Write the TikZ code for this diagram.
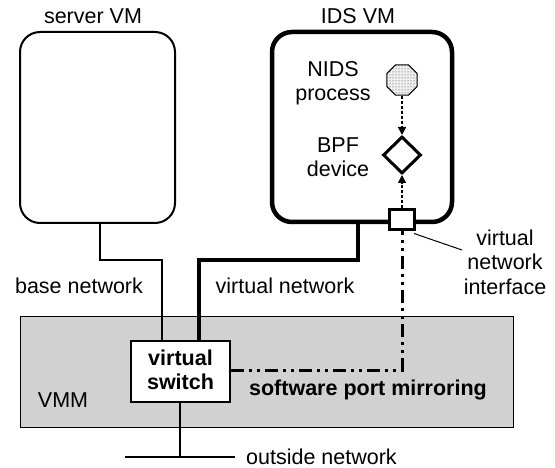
\documentclass[tikz,border=0pt]{standalone}
\usepackage{fontspec}
\setmainfont{Liberation Sans}
\usetikzlibrary{shapes.geometric,patterns,arrows.meta,calc}
\begin{document}
\begin{tikzpicture}[x=1pt,y=-1pt,
  lbl/.style={font=\fontsize{21.5}{24.5}\selectfont, align=center, inner sep=0pt},
  blbl/.style={lbl, font=\fontsize{21.5}{24.5}\selectfont\bfseries},
  vmbox/.style={draw, rounded corners=20pt, fill=white},
  dotarrow/.style={line width=1.5pt, dash pattern=on 3pt off 2pt, -{Triangle[length=8pt,width=8pt]}},
  mirror/.style={line width=3pt, dash pattern=on 13pt off 5pt on 3pt off 5pt on 3pt off 5pt},
]
\useasboundingbox (0,0) rectangle (555,468);
% VMM
\node[draw, line width=1pt, fill=black!18, minimum width=493pt, minimum height=111pt, inner sep=0pt] (vmm) at (266.5,371.5) {};
\node[lbl] (vmmt) at (63,400) {VMM};
% server VM
\node[vmbox, line width=2pt, minimum width=155pt, minimum height=191pt] (srv) at (97.5,127.5) {};
\node[lbl] (srvt) at (93,16) {server VM};
% IDS VM
\node[vmbox, line width=4.5pt, minimum width=180pt, minimum height=190pt] (ids) at (362,127) {};
\node[lbl] (idst) at (358,16) {IDS VM};
% NIDS process
\node[regular polygon, regular polygon sides=8, line width=1pt, minimum size=33pt, inner sep=0pt, fill=black!6] (nids) at (402,80) {};
\node[regular polygon, regular polygon sides=8, draw, line width=1pt, minimum size=33pt, inner sep=0pt, pattern=dots, pattern color=black!85] at (402,80) {};
\node[lbl] (nidst) at (333,83) {NIDS\\process};
% BPF
\node[diamond, draw, line width=3pt, minimum width=38pt, minimum height=37pt, inner sep=0pt, fill=white] (bpf) at (402,155) {};
\node[lbl] (bpft) at (338,157) {BPF\\device};
% port
\node[draw, line width=3pt, fill=white, minimum width=25pt, minimum height=20pt, inner sep=0pt] (port) at (402,220) {};
\node[lbl] (portt) at (505,262) {virtual\\network\\interface};
\coordinate (lead) at (462,250);
\draw[line width=1pt] ([xshift=-2pt,yshift=-2pt]port.south east) -- (lead);
% arrows
\draw[dotarrow] (nids.south) -- (bpf.north);
\draw[dotarrow] (port.north) -- (bpf.south);
% switch
\node[draw, line width=1.5pt, fill=white, minimum width=99pt, minimum height=61pt, inner sep=0pt] (sw) at (180.5,371.5) {};
\node[blbl] (swt) at (180.5,370) {virtual\\switch};
% networks
\coordinate (b1) at (162,260);
\coordinate (v1) at (199,260);
\draw[line width=2pt] ([xshift=2.5pt]srv.south) |- (b1) -- (b1 |- sw.north);
\draw[line width=4.5pt] ([xshift=-4pt]ids.south) |- (v1) -- (v1 |- sw.north);
\node[lbl] (bnt) at (79,286) {base network};
\node[lbl] (vnt) at (285,286) {virtual network};
% mirroring
\coordinate (m1) at (402,370);
\draw[mirror] (sw.east |- m1) -- (m1) -- (port.south);
\node[blbl] (mirt) at (368,390) {software port mirroring};
% outside
\coordinate (o1) at (180,457);
\coordinate (oL) at (125,457);
\coordinate (oR) at (235,457);
\draw[line width=2.5pt] (sw.south -| o1) -- (o1);
\draw[line width=2.5pt] (oL) -- (oR);
\node[lbl, anchor=west] (outt) at (246,457) {outside network};
\end{tikzpicture}
\end{document}
